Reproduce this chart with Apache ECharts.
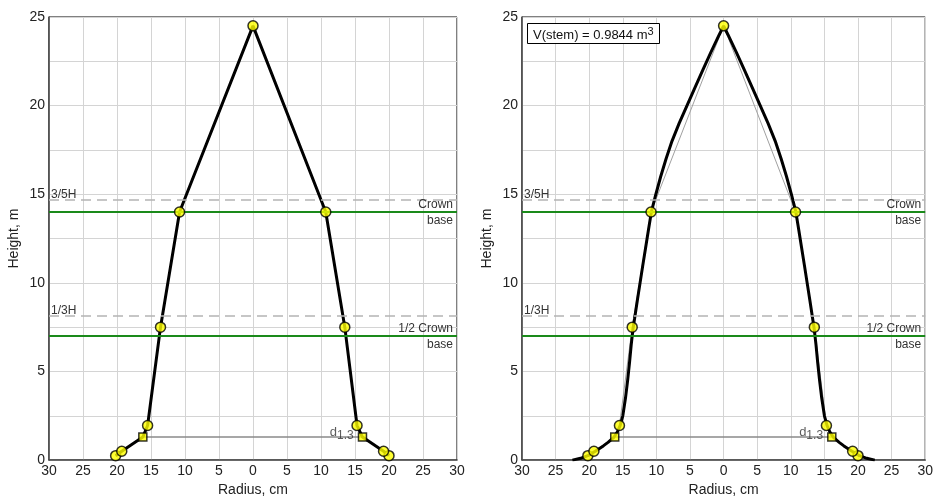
<!DOCTYPE html>
<html><head><meta charset="utf-8">
<script src="https://cdn.jsdelivr.net/npm/echarts@6/dist/echarts.min.js"></script>
<style>html,body{margin:0;padding:0;background:#fff}#c{width:936px;height:502px}</style>
</head><body><div id="c"></div>
<script>
// ---- data ----
const sectionHeights = [0.25, 0.5, 1.3, 1.95, 7.5, 14.0];
const leftRadius  = [20.2, 19.3, 16.2, 15.5, 13.6, 10.8];
const rightRadius = [20.0, 19.2, 16.1, 15.3, 13.5, 10.7];
const apexHeight = 24.5;
const d13Index = 2; // square markers at 1.3 m
const dashedHeights = [14.7, 8.17];
const dashedLabels = ['3/5H', '1/3H'];
const greenHeights = [14.0, 7.0];
const greenLabels = ['Crown', '1/2 Crown'];
const curveHeights = [0, 0.1, 0.25, 0.5, 0.8, 1.0, 1.3, 1.6, 1.95, 2.5, 3.5, 4.5, 5.5, 6.5, 7.5, 8, 9, 10, 11, 12, 13, 14, 15, 16, 17, 18, 19, 20, 21, 22, 23, 24, 24.5];
const curveRadius  = [22.5, 21.3, 20.2, 19.1, 17.9, 17.2, 16.3, 15.8, 15.4, 15.0, 14.6, 14.28, 14.0, 13.75, 13.45, 13.24, 12.84, 12.43, 12.02, 11.6, 11.18, 10.75, 10.08, 9.36, 8.56, 7.68, 6.62, 5.45, 4.28, 3.1, 1.9, 0.65, 0];
const xTicks = [-30, 30, 5];
const yTicks = [0, 25, 2.5];
const stemVolume = 0.9844;

const FONT = 'Liberation Sans, Arial, sans-serif';
const chart = echarts.init(document.getElementById('c'));

function polyline() {
  const pts = [];
  for (let i = 0; i < sectionHeights.length; i++) pts.push([-leftRadius[i], sectionHeights[i]]);
  pts.push([0, apexHeight]);
  for (let i = sectionHeights.length - 1; i >= 0; i--) pts.push([rightRadius[i], sectionHeights[i]]);
  return pts;
}
function curve() {
  const pts = [];
  for (let i = 0; i < curveHeights.length; i++) pts.push([-curveRadius[i], curveHeights[i]]);
  for (let i = curveHeights.length - 2; i >= 0; i--) pts.push([curveRadius[i], curveHeights[i]]);
  return pts;
}
function markers(square) {
  const pts = [];
  for (let i = 0; i < sectionHeights.length; i++) {
    if ((i === d13Index) === square) {
      pts.push([-leftRadius[i], sectionHeights[i]]);
      pts.push([rightRadius[i], sectionHeights[i]]);
    }
  }
  if (!square) pts.push([0, apexHeight]);
  return pts;
}

const lblStyle = {color: '#333', fontFamily: FONT, fontSize: 12};
function refLines() {
  const data = [];
  dashedHeights.forEach((h, k) => data.push({
    yAxis: h, lineStyle: {color: '#b4b4b4', type: [10, 6], width: 1.5},
    label: Object.assign({show: true, formatter: dashedLabels[k], position: 'insideStartTop', distance: [2, -1]}, lblStyle)
  }));
  greenHeights.forEach((h, k) => {
    data.push({
      yAxis: h, lineStyle: {color: '#1a8a1a', type: 'solid', width: 2},
      label: Object.assign({show: true, formatter: greenLabels[k], position: 'insideEndTop', distance: [4, 1]}, lblStyle)
    });
    data.push({
      yAxis: h, lineStyle: {color: 'rgba(0,0,0,0)', type: 'solid', width: 1},
      label: Object.assign({show: true, formatter: 'base', position: 'insideEndBottom', distance: [4, 3]}, lblStyle)
    });
  });
  return data;
}

function seriesFor(g, smooth) {
  const s = [];
  s.push({
    type: 'line', xAxisIndex: g, yAxisIndex: g, data: [], silent: true, z: 1,
    markLine: {symbol: 'none', silent: true, animation: false, data: refLines()}
  });
  s.push({
    type: 'line', xAxisIndex: g, yAxisIndex: g, z: 2, silent: true, showSymbol: false,
    data: [[-leftRadius[d13Index], sectionHeights[d13Index]], [rightRadius[d13Index], sectionHeights[d13Index]]],
    lineStyle: {color: '#8a8a8a', width: 1.5}
  });
  s.push({
    type: 'line', xAxisIndex: g, yAxisIndex: g, z: 3, silent: true, showSymbol: false,
    data: polyline(), lineStyle: {color: smooth ? '#a0a0a0' : '#909090', width: 1}
  });
  s.push({
    type: 'line', xAxisIndex: g, yAxisIndex: g, z: 4, silent: true, showSymbol: false,
    data: smooth ? curve() : polyline(), lineStyle: {color: '#000', width: 3}
  });
  s.push({
    type: 'scatter', xAxisIndex: g, yAxisIndex: g, z: 5, silent: true,
    data: markers(false), symbol: 'circle', symbolSize: 10,
    itemStyle: {color: '#ffff00', borderColor: '#000', borderWidth: 1.5}
  });
  const sq = markers(true).map((p, k) => k === 1 ? {
    value: p, label: {show: true, position: 'left', distance: 4, offset: [0, -5], formatter: 'd{s|1.3}',
      color: '#333', fontFamily: FONT, fontSize: 13,
      rich: {s: {fontSize: 12, fontFamily: FONT, color: '#333', padding: [8, 0, 0, 0]}}}
  } : {value: p});
  s.push({
    type: 'scatter', xAxisIndex: g, yAxisIndex: g, z: 6, silent: true,
    data: sq, symbol: 'rect', symbolSize: 8,
    itemStyle: {color: '#ffff00', borderColor: '#000', borderWidth: 1.5}
  });
  return s;
}

function xAxis(g) {
  return {
    type: 'value', gridIndex: g, min: xTicks[0], max: xTicks[1], interval: xTicks[2],
    name: 'Radius, cm', nameLocation: 'middle', nameGap: 20,
    nameTextStyle: {color: '#222', fontFamily: FONT, fontSize: 14},
    axisLine: {show: true, lineStyle: {color: '#444', width: 1.5}},
    axisTick: {show: false},
    axisLabel: {color: '#222', fontFamily: FONT, fontSize: 14, margin: 4, formatter: v => String(Math.abs(v))},
    splitLine: {show: true, lineStyle: {color: '#d4d4d4', width: 1}}
  };
}
function yAxis(g) {
  return {
    type: 'value', gridIndex: g, min: yTicks[0], max: yTicks[1], interval: yTicks[2],
    name: 'Height, m', nameLocation: 'middle', nameGap: 28,
    nameTextStyle: {color: '#222', fontFamily: FONT, fontSize: 14},
    axisLine: {show: true, onZero: false, lineStyle: {color: '#444', width: 1.5}},
    axisTick: {show: false},
    axisLabel: {color: '#222', fontFamily: FONT, fontSize: 14, margin: 4, formatter: v => (v % 5 === 0 ? String(v) : '')},
    splitLine: {show: true, lineStyle: {color: '#d4d4d4', width: 1}}
  };
}

chart.setOption({
  animation: false,
  backgroundColor: '#fff',
  title: {
    text: 'V(stem) = ' + stemVolume.toFixed(4) + ' m{sup|3}',
    left: 527, top: 23, padding: [3, 6, 2, 6],
    borderColor: '#000', borderWidth: 1, backgroundColor: '#fff',
    textStyle: {fontFamily: FONT, fontSize: 13, fontWeight: 'normal', color: '#111',
      rich: {sup: {fontSize: 11, fontFamily: FONT, color: '#111', padding: [0, 0, 7, 0]}}}
  },
  grid: [
    {left: 49, right: 479, top: 17, bottom: 36, show: true, borderColor: '#000', borderWidth: 1, z: 0},
    {left: 522, right: 7, top: 17, bottom: 36, show: true, borderColor: '#000', borderWidth: 1, z: 0}
  ],
  xAxis: [xAxis(0), xAxis(1)],
  yAxis: [yAxis(0), yAxis(1)],
  series: seriesFor(0, false).concat(seriesFor(1, true))
});
</script></body></html>
